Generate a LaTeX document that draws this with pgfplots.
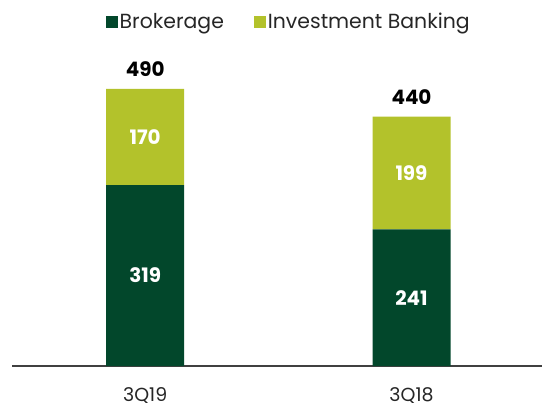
\documentclass[border=0pt]{standalone}
\usepackage{pgfplots}
\pgfplotsset{compat=1.18}
\usepackage{pgfplotstable}
\usepackage{fontspec}
\setmainfont{Poppins}
\definecolor{brok}{HTML}{02472B}
\definecolor{ibk}{HTML}{B3C22B}
\pgfplotstableread{
x brok ib total
0 319 170 490
1 241 199 440
}\data
\pgfplotsset{common/.style={
  scale only axis, width=530bp, height=340bp,
  xmin=-0.5, xmax=1.49, ymin=0, ymax=600}}
\begin{document}
\begin{tikzpicture}
\begin{axis}[
  common,
  ybar stacked, bar width=78bp,
  axis x line=bottom, axis y line=none,
  x axis line style={draw=black!75, line width=1.2bp, -},
  xtick=data, xticklabels={3Q19,3Q18}, major tick length=0,
  xticklabel style={font=\fontsize{19}{22}\selectfont, text=black!85, anchor=base, inner sep=0pt, yshift=-35.5bp},
  ytick=\empty,
  legend columns=2,
  legend style={at={(axis description cs:0.522,1.012)}, anchor=center, draw=none, fill=none,
    font=\fontsize{20.5}{24}\selectfont, text=black!85,
    /tikz/every even column/.append style={column sep=28bp}},
  legend image code/.code={\fill[#1] (0bp,-6bp) rectangle (12bp,6bp);},
  clip=false,
]
\addplot[fill=brok, draw=none] table[x=x,y=brok]{\data};
\addlegendentry{Brokerage}
\addplot[fill=ibk, draw=none] table[x=x,y=ib]{\data};
\addlegendentry{Investment Banking}
\coordinate (bl) at (axis description cs:-0.02264,-0.10882);
\coordinate (tr) at (axis description cs:1.0,1.07647);
\end{axis}
\begin{axis}[common, hide axis, clip=false]
\addplot[draw=none, mark=none, nodes near coords,
  point meta=explicit symbolic,
  every node near coord/.style={anchor=center, text=white, font=\fontsize{20}{22}\selectfont\bfseries}]
  table[x=x, y expr=\thisrow{brok}/2, meta=brok]{\data};
\addplot[draw=none, mark=none, nodes near coords,
  point meta=explicit symbolic,
  every node near coord/.style={anchor=center, text=white, font=\fontsize{20}{22}\selectfont\bfseries}]
  table[x=x, y expr=\thisrow{brok}+\thisrow{ib}/2, meta=ib]{\data};
\addplot[draw=none, mark=none, nodes near coords,
  point meta=explicit symbolic,
  every node near coord/.style={anchor=base, yshift=12bp, text=black, font=\fontsize{20}{22}\selectfont\bfseries}]
  table[x=x, y=total, meta=total]{\data};
\end{axis}
\pgfresetboundingbox
\path[use as bounding box] (bl) rectangle (tr);
\end{tikzpicture}
\end{document}
